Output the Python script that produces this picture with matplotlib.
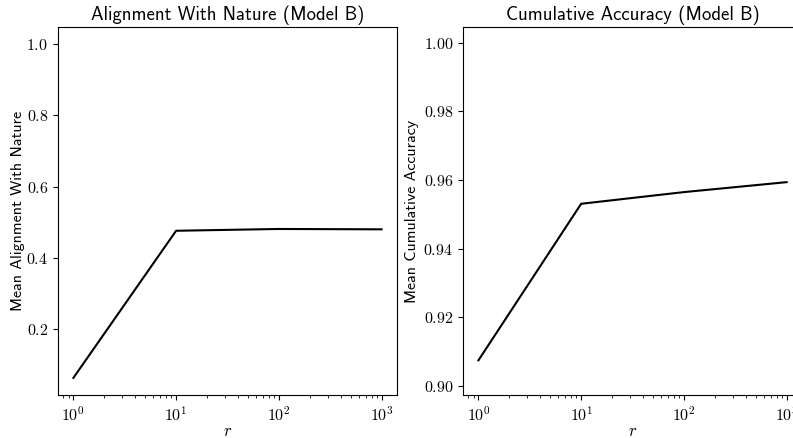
import numpy as np
import matplotlib
matplotlib.use("Agg")
import matplotlib.pyplot as plt

plt.rcParams['mathtext.fontset'] = 'cm'
plt.rcParams['font.family'] = 'cmr10'
plt.rcParams['axes.formatter.use_mathtext'] = True
plt.rcParams['axes.unicode_minus'] = False

# data
r = [1, 10, 100, 1000]
alignment = [0.063, 0.476, 0.481, 0.480]
accuracy = [0.9075, 0.9531, 0.9565, 0.9594]

sans = 'cmss10'

fig = plt.figure(figsize=(7.93, 4.38), dpi=100)
ax1 = fig.add_axes([0.0731, 0.0982, 0.4275, 0.8402])
ax2 = fig.add_axes([0.5839, 0.0982, 0.4275, 0.8402])

ax1.plot(r, alignment, color='black', lw=1.5)
ax1.set_xscale('log')
ax1.set_ylim(0.015, 1.048)
ax1.set_yticks([0.2, 0.4, 0.6, 0.8, 1.0])
ax1.set_yticklabels(['$0.2$', '$0.4$', '$0.6$', '$0.8$', '$1.0$'])
ax1.set_title('Alignment With Nature (Model B)', fontsize=13.5, fontfamily=sans, pad=5)
ax1.set_ylabel('Mean Alignment With Nature', fontsize=11.5, fontfamily=sans, labelpad=1)
ax1.set_xlabel('$r$', fontsize=12, labelpad=0)

ax2.plot(r, accuracy, color='black', lw=1.5)
ax2.set_xscale('log')
ax2.set_ylim(0.8974, 1.0046)
yt = [0.90, 0.92, 0.94, 0.96, 0.98, 1.00]
ax2.set_yticks(yt)
ax2.set_yticklabels(['$%.2f$' % v for v in yt])
ax2.set_title('Cumulative Accuracy (Model B)', fontsize=13.5, fontfamily=sans, pad=5)
ax2.set_ylabel('Mean Cumulative Accuracy', fontsize=11.5, fontfamily=sans, labelpad=3)
ax2.set_xlabel('$r$', fontsize=12, labelpad=0)

for ax in (ax1, ax2):
    ax.tick_params(labelsize=11.5)

fig.savefig('out.png', dpi=100)
